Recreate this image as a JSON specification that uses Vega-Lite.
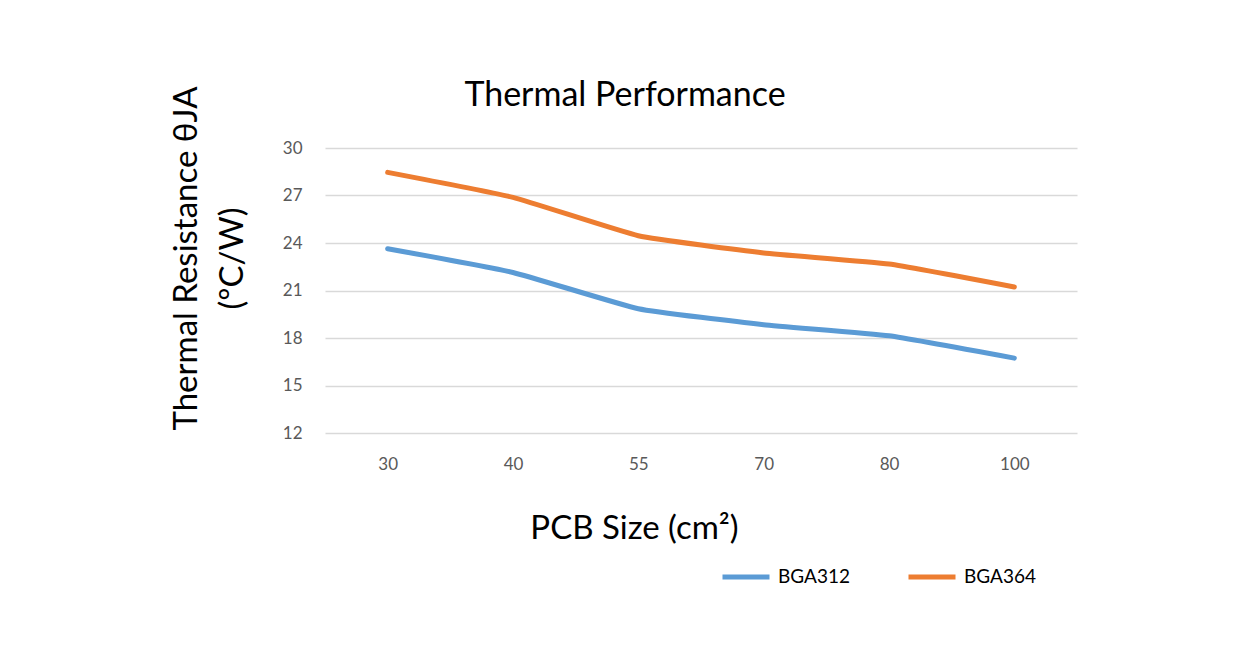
{
  "$schema": "https://vega.github.io/schema/vega-lite/v6.json",
  "width": 752,
  "height": 285,
  "autosize": {"type": "none"},
  "padding": {"left": 325, "top": 148, "right": 170, "bottom": 237},
  "background": "white",
  "title": {
    "text": "Thermal Performance",
    "font": "Lato",
    "fontSize": 34,
    "fontWeight": "normal",
    "color": "#000000",
    "anchor": "middle",
    "frame": "group",
    "dx": -76,
    "dy": 97,
    "offset": 43,
    "baseline": "alphabetic"
  },
  "data": {
    "values": [
      {"size": "30", "series": "BGA312", "value": 23.64},
      {"size": "40", "series": "BGA312", "value": 22.14},
      {"size": "55", "series": "BGA312", "value": 19.85},
      {"size": "70", "series": "BGA312", "value": 18.84},
      {"size": "80", "series": "BGA312", "value": 18.14},
      {"size": "100", "series": "BGA312", "value": 16.73},
      {"size": "30", "series": "BGA364", "value": 28.46},
      {"size": "40", "series": "BGA364", "value": 26.88},
      {"size": "55", "series": "BGA364", "value": 24.46},
      {"size": "70", "series": "BGA364", "value": 23.37},
      {"size": "80", "series": "BGA364", "value": 22.67},
      {"size": "100", "series": "BGA364", "value": 21.22}
    ]
  },
  "mark": {"type": "line", "strokeWidth": 5, "strokeCap": "round", "strokeJoin": "round", "interpolate": "cardinal", "tension": 0.6},
  "encoding": {
    "x": {
      "field": "size",
      "type": "ordinal",
      "sort": ["30", "40", "55", "70", "80", "100"],
      "scale": {"type": "point", "padding": 0.5},
      "axis": {
        "title": "PCB Size (cm²)",
        "titleFont": "Lato",
        "titleFontSize": 33,
        "titleFontWeight": "normal",
        "titleColor": "#000000",
        "titleX": 309,
        "titleY": 105,
        "titleBaseline": "alphabetic",
        "titleAlign": "center",
        "labelAngle": 0,
        "labelFont": "Lato",
        "labelFontSize": 17,
        "labelColor": "#595959",
        "labelPadding": 23,
        "domain": false,
        "ticks": false,
        "grid": false
      }
    },
    "y": {
      "field": "value",
      "type": "quantitative",
      "scale": {"domain": [12, 30], "nice": false, "zero": false},
      "axis": {
        "values": [12, 15, 18, 21, 24, 27, 30],
        "title": ["Thermal Resistance θJA", "(ºC/W)"],
        "titleFont": "Lato",
        "titleFontSize": 33,
        "titleFontWeight": "normal",
        "titleColor": "#000000",
        "titleX": -122,
        "titleY": 110,
        "titleAlign": "center",
        "titleAngle": -90,
        "titleLineHeight": 46,
        "labelFont": "Lato",
        "labelFontSize": 17,
        "labelColor": "#595959",
        "labelPadding": 23,
        "domain": false,
        "ticks": false,
        "grid": true,
        "gridColor": "#D9D9D9",
        "gridWidth": 1.5
      }
    },
    "color": {
      "field": "series",
      "type": "nominal",
      "scale": {"domain": ["BGA312", "BGA364"], "range": ["#5B9BD5", "#ED7D31"]},
      "legend": {
        "title": null,
        "orient": "none",
        "legendX": 395,
        "legendY": 403,
        "direction": "horizontal",
        "symbolType": "stroke",
        "symbolStrokeWidth": 5,
        "symbolSize": 2209,
        "labelFont": "Lato",
        "labelFontSize": 19,
        "labelColor": "#000000",
        "labelOffset": 6,
        "columnPadding": 48
      }
    }
  },
  "config": {"view": {"stroke": null}}
}
